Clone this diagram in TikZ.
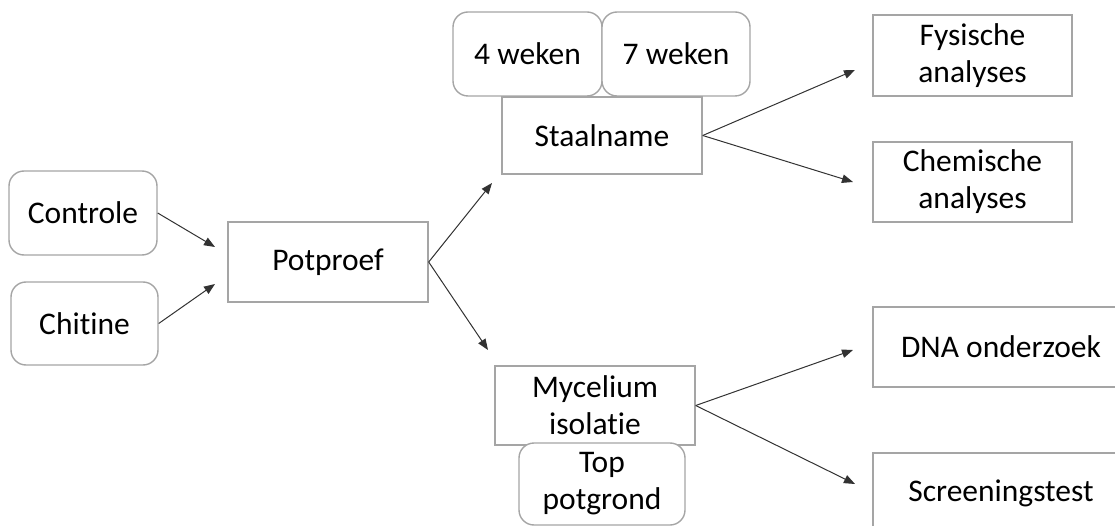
\documentclass[tikz,border=0pt]{standalone}
\usepackage{fontspec}
\setmainfont{Carlito}[Ligatures=NoCommon]
\usetikzlibrary{arrows.meta}
\definecolor{boxgray}{RGB}{165,165,165}
\definecolor{arrowgray}{RGB}{50,50,50}
\begin{document}
\begin{tikzpicture}[x=1pt,y=-1pt,
  base/.style={draw=boxgray, line width=1.4pt, fill=white, inner sep=0pt, align=center,
    font=\fontsize{31.5pt}{37pt}\selectfont},
  sqbox/.style={base},
  rbox/.style={base, rounded corners=15pt},
  conn/.style={draw=arrowgray, line width=1pt, -{Triangle[length=11pt,width=8.5pt]}}]
\useasboundingbox (0,0) rectangle (1115,526);
\clip (0,0) rectangle (1115,526);
% nodes
\node[rbox, minimum width=148, minimum height=84] (controle) at (83,213) {Controle};
\node[rbox, minimum width=147, minimum height=83] (chitine) at (84.5,323.5) {Chitine};
\node[sqbox, minimum width=200, minimum height=80] (potproef) at (328,262) {Potproef};
\node[sqbox, minimum width=200, minimum height=77] (staalname) at (602,135.5) {Staalname};
\node[rbox, minimum width=149, minimum height=84] (w4) at (527.5,54) {4 weken};
\node[rbox, minimum width=148, minimum height=84] (w7) at (676,54) {7 weken};
\node[sqbox, minimum width=199, minimum height=81] (fys) at (972.5,55.5) {Fysische\\analyses};
\node[sqbox, minimum width=199, minimum height=80] (chem) at (972.5,182) {Chemische\\analyses};
\node[sqbox, minimum width=200, minimum height=79] (myc) at (595,405.5) {Mycelium\\isolatie};
\node[rbox, minimum width=166, minimum height=82] (top) at (602,484) {Top\\potgrond};
\node[sqbox, minimum width=256, minimum height=80] (dna) at (1001,347) {DNA onderzoek};
\node[sqbox, minimum width=256, minimum height=80] (screen) at (1001,493) {Screeningstest};
% arrow tip coordinates
\coordinate (c1) at (215,247);
\coordinate (c2) at (215,284);
\coordinate (c3) at (492,183);
\coordinate (c4) at (488,350);
\coordinate (c5) at (855,70);
\coordinate (c6) at (853,182);
\coordinate (c7) at (853,350);
\coordinate (c8) at (855,484);
% connectors
\draw[conn] (controle.east) -- (c1);
\draw[conn] (chitine.east) -- (c2);
\draw[conn] (potproef.east) -- (c3);
\draw[conn] (potproef.east) -- (c4);
\draw[conn] (staalname.east) -- (c5);
\draw[conn] (staalname.east) -- (c6);
\draw[conn] (myc.east) -- (c7);
\draw[conn] (myc.east) -- (c8);
\end{tikzpicture}
\end{document}
